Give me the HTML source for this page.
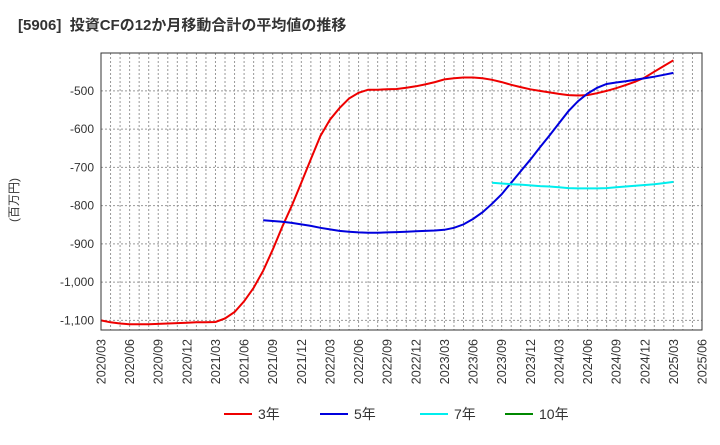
<!DOCTYPE html>
<html><head><meta charset="utf-8"><style>
body{margin:0;background:#fff;font-family:"Liberation Sans","Noto Sans CJK JP",sans-serif;}
</style></head><body>
<svg id="c" width="720" height="440" xmlns="http://www.w3.org/2000/svg" font-family="Liberation Sans, Noto Sans CJK JP, sans-serif">
<text x="18" y="30" font-size="15" font-weight="bold" fill="#333" xml:space="preserve" style="white-space:pre">[5906]  投資CFの12か月移動合計の平均値の推移</text>
<text transform="translate(18,200) rotate(-90)" font-size="12" fill="#333" text-anchor="middle">(百万円)</text>
<g id="grid"></g><g id="series"></g><g id="axes"></g>
<g font-size="14" fill="#333">
<line x1="224" y1="414" x2="252" y2="414" stroke="#e00" stroke-width="2"/><text x="258" y="419">3年</text>
<line x1="320" y1="414" x2="348" y2="414" stroke="#00d" stroke-width="2"/><text x="354" y="419">5年</text>
<line x1="420" y1="414" x2="448" y2="414" stroke="#0ee" stroke-width="2"/><text x="454" y="419">7年</text>
<line x1="505" y1="414" x2="533" y2="414" stroke="#080" stroke-width="2"/><text x="539" y="419">10年</text>
</g>
</svg>
<script>
const yTicks=[-500,-600,-700,-800,-900,-1000,-1100];
const yTickLabels=["-500","-600","-700","-800","-900","-1,000","-1,100"];
const xLabels=["2020/03","2020/06","2020/09","2020/12","2021/03","2021/06","2021/09","2021/12","2022/03","2022/06","2022/09","2022/12","2023/03","2023/06","2023/09","2023/12","2024/03","2024/06","2024/09","2024/12","2025/03","2025/06"];
const s3=[-1100,-1105,-1108,-1110,-1110,-1110,-1109,-1108,-1107,-1106,-1105,-1105,-1104,-1095,-1078,-1050,-1015,-970,-915,-855,-800,-740,-678,-618,-575,-545,-520,-505,-497,-497,-496,-495,-492,-488,-483,-477,-470,-467,-465,-465,-467,-471,-477,-484,-490,-496,-500,-504,-508,-511,-512,-511,-506,-500,-493,-485,-476,-465,-450,-435,-420];
const s3Start=0;
const s5=[-838,-840,-842,-845,-849,-853,-858,-862,-866,-868,-870,-871,-871,-870,-869,-868,-867,-866,-865,-863,-858,-849,-835,-817,-795,-770,-740,-710,-680,-648,-617,-585,-553,-527,-507,-492,-482,-478,-475,-471,-467,-463,-458,-453];
const s5Start=17;
const s7=[-740,-742,-744,-745,-747,-749,-750,-752,-754,-755,-755,-755,-754,-752,-750,-748,-746,-744,-741,-738];
const s7Start=41;
const L=101,R=702,T=53,B=330,nM=63,yMin=-1125,yMax=-401;
const X=i=>L+(R-L)*i/nM;
const Y=v=>T+(B-T)*(yMax-v)/(yMax-yMin);
const NS="http://www.w3.org/2000/svg";
function mk(tag,attrs,parent){const e=document.createElementNS(NS,tag);for(const k in attrs)e.setAttribute(k,attrs[k]);parent.appendChild(e);return e;}
const g=document.getElementById('grid'),ax=document.getElementById('axes'),se=document.getElementById('series');
for(let i=1;i<nM;i++){const l=mk('line',{x1:X(i),x2:X(i),y1:T,y2:B,stroke:'#999','stroke-width':1,'stroke-dasharray':'2,2'},g);

}
yTicks.forEach((v,k)=>{const l=mk('line',{x1:L,x2:R,y1:Y(v),y2:Y(v),stroke:'#999','stroke-width':1,'stroke-dasharray':'2,2'},g);


const t=mk('text',{x:L-7,y:Y(v)+4,'text-anchor':'end','font-size':12,fill:'#333'},ax);t.textContent=yTickLabels[k];

});
xLabels.forEach((s,k)=>{const x=X(k*3);const t=mk('text',{transform:`translate(${x+4.5},339) rotate(-90)`,'text-anchor':'end','font-size':12.5,fill:'#333'},ax);t.textContent=s;

});
const fr=mk('rect',{x:L,y:T,width:R-L,height:B-T,fill:'none',stroke:'#333','stroke-width':1},ax);


function line(arr,start,col,name){const d=arr.map((v,i)=>(i?'L':'M')+X(start+i).toFixed(1)+','+Y(v).toFixed(1)).join('');
const p=mk('path',{d:d,fill:'none',stroke:col,'stroke-width':2},se);

}
line(s3,s3Start,'#e00','series-3y');
line(s5,s5Start,'#00d','series-5y');
line(s7,s7Start,'#0ee','series-7y');
</script>
</body></html>
